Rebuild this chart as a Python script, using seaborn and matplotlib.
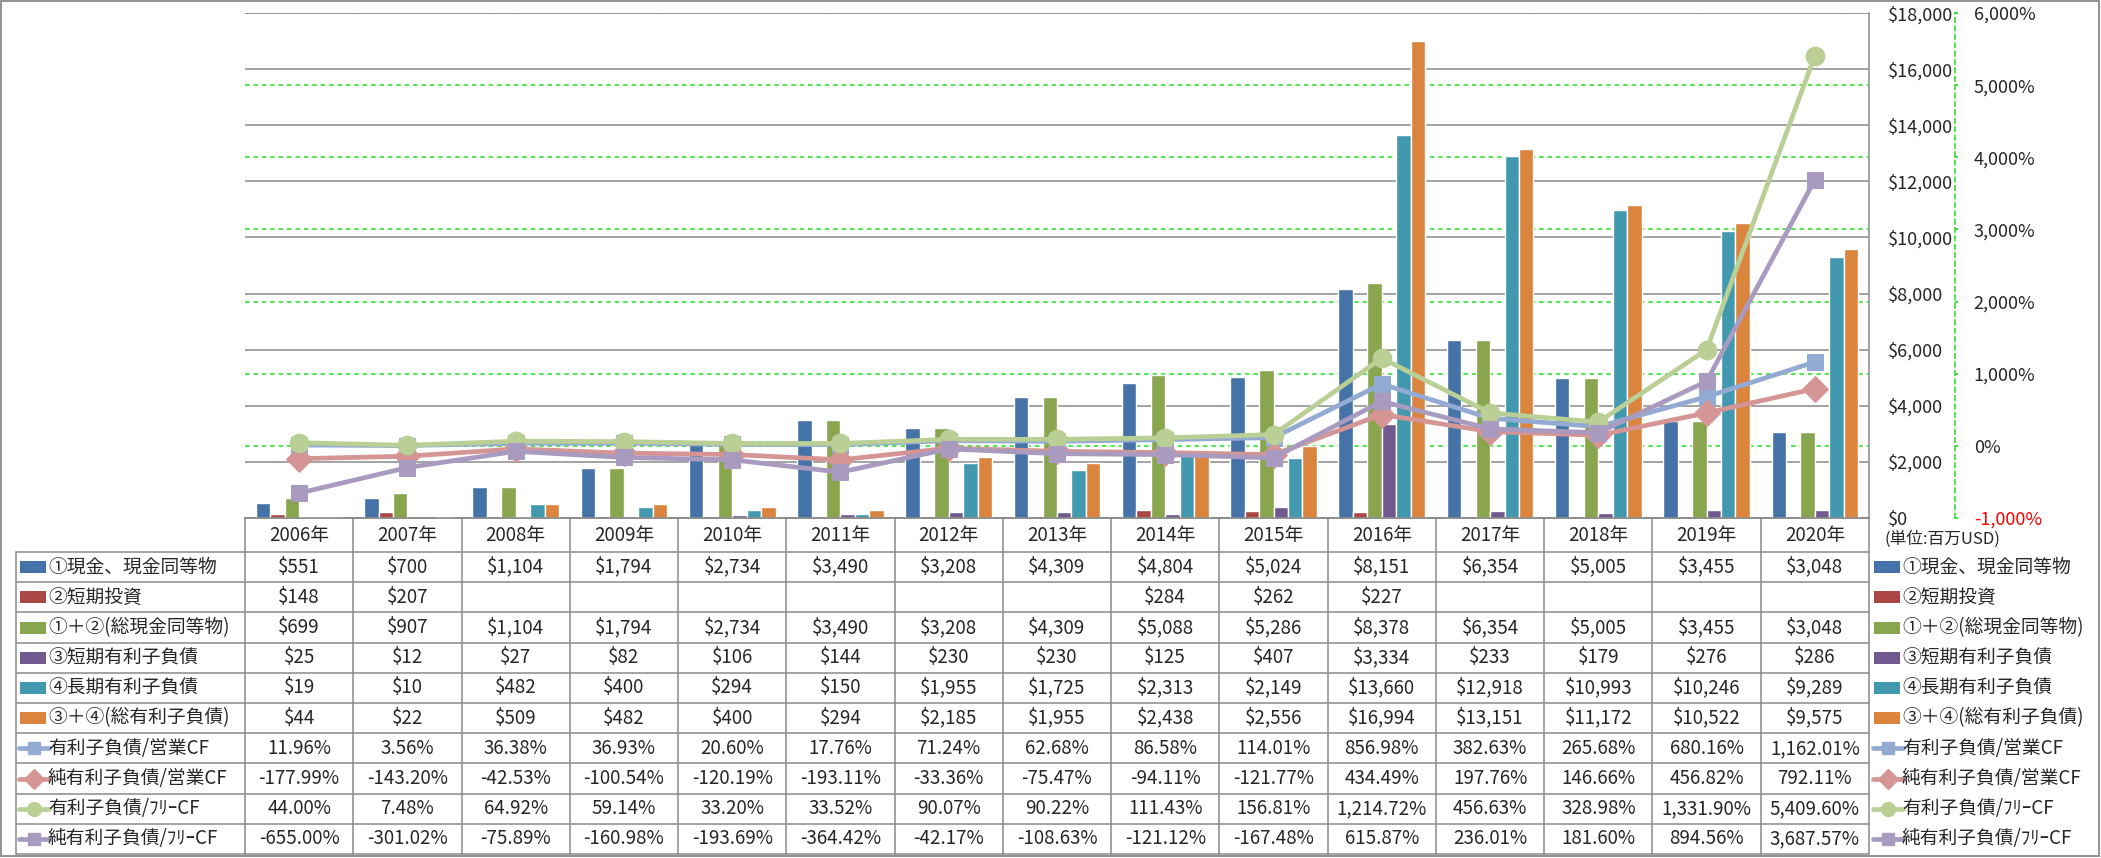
import numpy as np
import pandas as pd
import seaborn as sns
import matplotlib.pyplot as plt
from matplotlib.patches import Rectangle
from matplotlib.lines import Line2D
from matplotlib.ticker import MultipleLocator, FuncFormatter

# data (百万USD / %)
years = ['2006年', '2007年', '2008年', '2009年', '2010年', '2011年', '2012年', '2013年',
         '2014年', '2015年', '2016年', '2017年', '2018年', '2019年', '2020年']
cash = [551, 700, 1104, 1794, 2734, 3490, 3208, 4309, 4804, 5024, 8151, 6354, 5005, 3455, 3048]
short_inv = [148, 207, None, None, None, None, None, None, 284, 262, 227, None, None, None, None]
total_cash = [699, 907, 1104, 1794, 2734, 3490, 3208, 4309, 5088, 5286, 8378, 6354, 5005, 3455, 3048]
short_debt = [25, 12, 27, 82, 106, 144, 230, 230, 125, 407, 3334, 233, 179, 276, 286]
long_debt = [19, 10, 482, 400, 294, 150, 1955, 1725, 2313, 2149, 13660, 12918, 10993, 10246, 9289]
total_debt = [44, 22, 509, 482, 400, 294, 2185, 1955, 2438, 2556, 16994, 13151, 11172, 10522, 9575]

debt_ocf = [11.96, 3.56, 36.38, 36.93, 20.60, 17.76, 71.24, 62.68, 86.58, 114.01, 856.98, 382.63, 265.68, 680.16, 1162.01]
net_debt_ocf = [-177.99, -143.20, -42.53, -100.54, -120.19, -193.11, -33.36, -75.47, -94.11, -121.77, 434.49, 197.76, 146.66, 456.82, 792.11]
debt_fcf = [44.00, 7.48, 64.92, 59.14, 33.20, 33.52, 90.07, 90.22, 111.43, 156.81, 1214.72, 456.63, 328.98, 1331.90, 5409.60]
net_debt_fcf = [-655.00, -301.02, -75.89, -160.98, -193.69, -364.42, -42.17, -108.63, -121.12, -167.48, 615.87, 236.01, 181.60, 894.56, 3687.57]

bar_names = ['①現金、現金同等物', '②短期投資', '①＋②(総現金同等物)', '③短期有利子負債', '④長期有利子負債', '③＋④(総有利子負債)']
bar_series = [cash, short_inv, total_cash, short_debt, long_debt, total_debt]
bar_colors = ['#4572A7', '#AA4643', '#89A54E', '#71588F', '#4198AF', '#DB843D']

line_names = ['有利子負債/営業CF', '純有利子負債/営業CF', '有利子負債/ﾌﾘｰCF', '純有利子負債/ﾌﾘｰCF']
line_series = [debt_ocf, net_debt_ocf, debt_fcf, net_debt_fcf]
line_colors = ['#93AAD2', '#D49594', '#B9CF96', '#A99BC0']
line_markers = ['s', 'D', 'o', 's']
line_msize = [12, 13, 13.5, 12]
key_msize = [9, 10, 10, 9]

sns.set_theme(style='white')
plt.rcParams['font.family'] = ['Noto Sans CJK JP', 'DejaVu Sans']

W, H = 2101, 858
PL, PR, PT, PB = 245, 1869, 13, 518   # plot area in pixels
HB, TB, TL = 552, 854, 16             # header bottom, table bottom, table left
GRAY = '#8A8A8A'
FS = 13.5

fig = plt.figure(figsize=(W / 100, H / 100), dpi=100)

# pixel-space axes for table + border
tax = fig.add_axes([0, 0, 1, 1])
tax.set_xlim(0, W)
tax.set_ylim(H, 0)
tax.axis('off')

ax = fig.add_axes([PL / W, 1 - PB / H, (PR - PL) / W, (PB - PT) / H])
ax_pct = ax.twinx()
ax_line = ax.twinx()
ax_pct.set_zorder(1)
ax.set_zorder(2)
ax_line.set_zorder(3)
ax.patch.set_visible(False)
ax_line.patch.set_visible(False)

# bars
rows = []
for name, vals in zip(bar_names, bar_series):
    for yr, v in zip(years, vals):
        rows.append({'year': yr, 'series': name, 'value': v})
df = pd.DataFrame(rows).dropna()
sns.barplot(data=df, x='year', y='value', hue='series', order=years, hue_order=bar_names,
            palette=bar_colors, errorbar=None, width=0.8, saturation=1, legend=False, ax=ax)

# lines on % scale
xpos = np.arange(len(years))
for name, vals, c, m, ms in zip(line_names, line_series, line_colors, line_markers, line_msize):
    sns.lineplot(x=xpos, y=vals, ax=ax_line, color=c, marker=m, markersize=ms,
                 markeredgecolor=c, linewidth=3.4, legend=False)

ax.set_xlim(-0.5, len(years) - 0.5)
ax.set_ylim(0, 18000)
ax.yaxis.set_major_locator(MultipleLocator(2000))
ax.yaxis.set_major_formatter(FuncFormatter(lambda v, p: f'${v:,.0f}'))
ax.yaxis.tick_right()
ax.grid(axis='y', color=GRAY, lw=1.1)
ax.grid(axis='x', visible=False)
ax.set_axisbelow(True)
ax.tick_params(axis='y', length=0, pad=13.5, labelsize=13)
ax.tick_params(axis='x', length=0, pad=5, labelsize=13.5)
ax.set_xlabel('')
ax.set_ylabel('')
for s in ['left', 'top']:
    ax.spines[s].set_visible(False)
for s in ['right', 'bottom']:
    ax.spines[s].set_color(GRAY)
    ax.spines[s].set_linewidth(1.1)

ax_pct.set_ylim(-1000, 6000)
ax_pct.yaxis.set_major_locator(MultipleLocator(1000))
ax_pct.yaxis.set_major_formatter(FuncFormatter(lambda v, p: f'{v:,.0f}%'))
ax_pct.grid(axis='y', color='#22E022', lw=1.1, ls=(0, (3, 2.5)))
ax_pct.tick_params(axis='y', length=2.5, color='#22E022', pad=11, labelsize=13)
for s in ['left', 'top', 'bottom']:
    ax_pct.spines[s].set_visible(False)
ax_pct.spines['right'].set_position(('axes', (1955 - PL) / (PR - PL)))
ax_pct.spines['right'].set_color('#22E022')
ax_pct.spines['right'].set_linestyle((0, (3, 2.5)))
ax_pct.spines['right'].set_linewidth(1.1)
ax_pct.figure.canvas.draw()
for lab in ax_pct.get_yticklabels():
    if lab.get_text().startswith('-') or lab.get_text().startswith('−'):
        lab.set_color('red')

ax_line.set_ylim(-1000, 6000)
ax_line.yaxis.set_visible(False)
for s in ax_line.spines.values():
    s.set_visible(False)
ax.set_xlim(-0.5, len(years) - 0.5)

# ---- data table ----
cw = (PR - PL) / len(years)
rh = (TB - HB) / 10
tax.plot([PL, PR], [PB, PB], color=GRAY, lw=1.1)
for i in range(11):
    y = HB + i * rh
    tax.plot([TL, PR], [y, y], color=GRAY, lw=1.1)
tax.plot([TL, TL], [HB, TB], color=GRAY, lw=1.1)
for k in range(len(years) + 1):
    x = PL + k * cw
    tax.plot([x, x], [PB, TB], color=GRAY, lw=1.1)

table_rows = []
for vals in bar_series:
    table_rows.append(['' if v is None else f'${v:,}' for v in vals])
for vals in line_series:
    table_rows.append([f'{v:,.2f}%' for v in vals])


def draw_key(xk, yc, idx):
    if idx < 6:
        tax.add_patch(Rectangle((xk, yc - 6), 26, 12, color=bar_colors[idx], lw=0))
    else:
        j = idx - 6
        tax.add_line(Line2D([xk - 1, xk + 29], [yc, yc], color=line_colors[j], lw=3.4))
        tax.add_line(Line2D([xk + 14], [yc], color=line_colors[j], marker=line_markers[j],
                            markersize=key_msize[j], markeredgecolor=line_colors[j]))


all_names = bar_names + line_names
for i, (name, vals) in enumerate(zip(all_names, table_rows)):
    yc = HB + (i + 0.5) * rh
    draw_key(20, yc, i)
    tax.text(48, yc, name, ha='left', va='center', fontsize=FS)
    for k, t in enumerate(vals):
        tax.text(PL + (k + 0.5) * cw, yc, t, ha='center', va='center', fontsize=FS)
    draw_key(1874, yc, i)
    tax.text(1902, yc, name, ha='left', va='center', fontsize=FS)

tax.text(1884, 539, '(単位:百万USD)', ha='left', va='center', fontsize=12)
tax.add_patch(Rectangle((1, 1), W - 3, H - 3, fill=False, ec=GRAY, lw=1.3))

fig.savefig('out.png', dpi=100)
